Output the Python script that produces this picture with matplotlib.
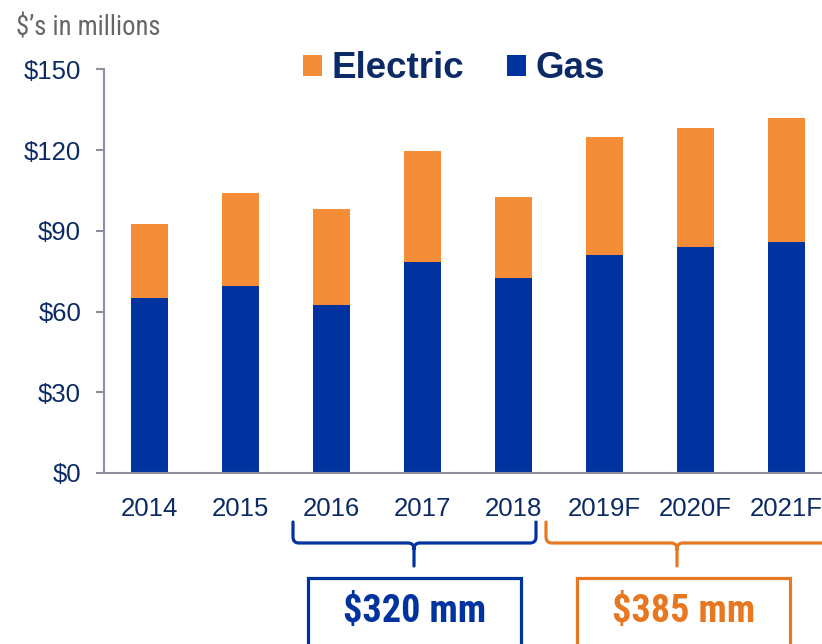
import matplotlib
matplotlib.use("Agg")
import matplotlib.pyplot as plt
from matplotlib.patches import Rectangle, PathPatch
from matplotlib.path import Path

plt.rcParams['font.family'] = ['Liberation Sans', 'DejaVu Sans']
NARROW = ['Roboto Condensed', 'Liberation Sans', 'DejaVu Sans']

# Data
years = ['2014', '2015', '2016', '2017', '2018', '2019F', '2020F', '2021F']
gas = [65.1, 69.5, 62.3, 78.4, 72.5, 80.9, 84.0, 86.0]
total = [92.7, 104.1, 98.1, 119.6, 102.6, 124.8, 128.1, 132.1]
electric = [t - g for t, g in zip(total, gas)]
yticks = [0, 30, 60, 90, 120, 150]
ytick_labels = ['$0', '$30', '$60', '$90', '$120', '$150']
series_names = ['Electric', 'Gas']
period_totals = ['$320 mm', '$385 mm']

GAS_C = '#0033A0'
ELEC_C = '#F58D38'
NAVY = '#0B2A66'
AXIS_C = '#8C8FA0'
ORANGE_D = '#E87722'

W, H = 822, 644
fig = plt.figure(figsize=(W / 100, H / 100), dpi=100)

def fx(x):
    return x / W

def fy(y):
    return 1 - y / H

ax = fig.add_axes([fx(104), fy(473), 728 / W, (473 - 69.5) / H])
x = list(range(len(years)))
b1 = ax.bar(x, gas, width=0.4, color=GAS_C, label='Gas', zorder=2)
b2 = ax.bar(x, electric, bottom=gas, width=0.4, color=ELEC_C, label='Electric', zorder=2)
ax.set_xlim(-0.5, 7.5)
ax.set_ylim(0, 150)
ax.set_yticks(yticks)
ax.set_yticklabels(ytick_labels)
ax.set_xticks(x)
ax.set_xticklabels(years)
for s in ['top', 'right']:
    ax.spines[s].set_visible(False)
for s in ['left', 'bottom']:
    ax.spines[s].set_color(AXIS_C)
    ax.spines[s].set_linewidth(1.5)
ax.tick_params(axis='y', colors=AXIS_C, labelcolor=NAVY, labelsize=18.5,
               length=5.5, width=1.5, pad=11)
ax.tick_params(axis='x', length=0, labelcolor=NAVY, labelsize=18.5, pad=17)

fig.text(fx(16), fy(35), "$\u2019s in millions", fontsize=19.2, color='#666666',
         family=NARROW, ha='left', va='baseline')

leg = fig.legend(handles=[b2, b1], labels=series_names, ncol=2,
                 loc='center', bbox_to_anchor=(fx(454), fy(69)),
                 frameon=False, fontsize=26.5, handlelength=0.51, handleheight=0.51,
                 handletextpad=0.27, columnspacing=1.16, borderpad=0, borderaxespad=0)
for t in leg.get_texts():
    t.set_fontweight('bold')
    t.set_color(NAVY)

def bracket(x0, x1, xc, color, ytop=522, yh=543, ybot=566, r=6):
    verts = [(x0, ytop), (x0, yh - r), (x0, yh), (x0 + r, yh), (xc - r, yh), (xc, yh),
             (xc, yh + r), (xc, ybot)]
    codes = [Path.MOVETO, Path.LINETO, Path.CURVE3, Path.CURVE3, Path.LINETO,
             Path.CURVE3, Path.CURVE3, Path.LINETO]
    verts2 = [(xc, yh + r), (xc, yh), (xc + r, yh), (x1 - r, yh), (x1, yh), (x1, yh - r), (x1, ytop)]
    codes2 = [Path.MOVETO, Path.CURVE3, Path.CURVE3, Path.LINETO, Path.CURVE3, Path.CURVE3, Path.LINETO]
    allv = [(fx(a), fy(b)) for a, b in verts + verts2]
    p = Path(allv, codes + codes2)
    fig.add_artist(PathPatch(p, transform=fig.transFigure, fill=False, edgecolor=color,
                             linewidth=2.3, capstyle='round', joinstyle='round'))

bracket(293, 536, 414, GAS_C)
bracket(546, 900, 677, ORANGE_D)

def box(x0, x1, color, txt):
    fig.add_artist(Rectangle((fx(x0), fy(700)), (x1 - x0) / W, (700 - 578) / H,
                             transform=fig.transFigure, fill=False, edgecolor=color,
                             linewidth=2.3))
    fig.text(fx((x0 + x1) / 2), fy(612), txt, ha='center', va='center', fontsize=27.5,
             fontweight='bold', color=color, family=NARROW)

box(308, 521, GAS_C, period_totals[0])
box(577, 790, ORANGE_D, period_totals[1])

fig.savefig('out.png', dpi=100)
